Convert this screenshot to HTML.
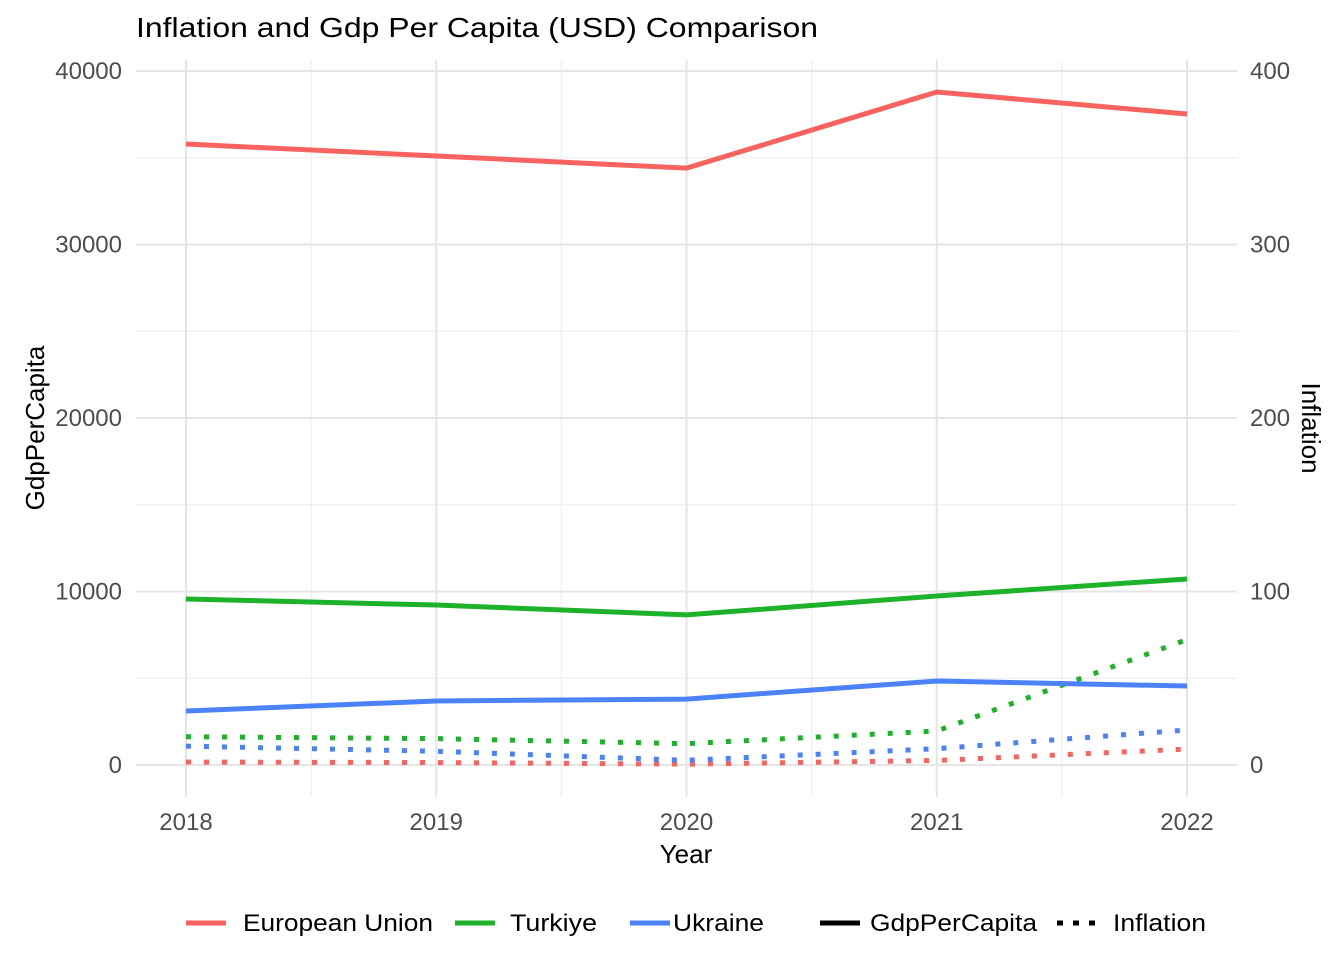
<!DOCTYPE html>
<html><head><meta charset="utf-8"><style>
body{margin:0;background:#fff;font-family:"Liberation Sans",sans-serif}
</style></head><body>
<svg id="chart" width="1344" height="960" xmlns="http://www.w3.org/2000/svg" font-family="Liberation Sans, sans-serif">
<text x="136" y="37" font-size="28" textLength="682" lengthAdjust="spacingAndGlyphs" fill="#000">Inflation and Gdp Per Capita (USD) Comparison</text>
<g id="grid"></g><g id="series"></g><g id="axes"></g>
<text x="686" y="863" font-size="26" text-anchor="middle">Year</text>
<text transform="translate(44,428) rotate(-90)" font-size="26" text-anchor="middle">GdpPerCapita</text>
<text transform="translate(1302,428) rotate(90)" font-size="26" text-anchor="middle">Inflation</text>
<g id="legend"></g>
</svg>
<script>
const years=[2018,2019,2020,2021,2022];
const countries=["European Union","Turkiye","Ukraine"];
const colors=["#F8635F","#1DB22A","#4C82F9"];
const gdpEU=[35790,35100,34400,38790,37520];
const gdpTR=[9570,9220,8650,9740,10720];
const gdpUA=[3110,3690,3800,4840,4550];
const infEU=[1.7,1.4,0.5,2.6,9.2];
const infTR=[16.3,15.2,12.3,19.6,72.3];
const infUA=[10.9,7.9,2.7,9.4,20.2];
const yTicks=[0,10000,20000,30000,40000];
const y2Ticks=[0,100,200,300,400];
const NS="http://www.w3.org/2000/svg";
const X=y=>186+(y-2018)*(1187-186)/4;
const Y=v=>765-v*(765-71)/40000;
const Y2=v=>Y(v*100);
function mk(t,a,p){const e=document.createElementNS(NS,t);for(const k in a)e.setAttribute(k,a[k]);document.getElementById(p).appendChild(e);return e;}
for(let v=5000;v<=45000;v+=10000){if(Y(v)>60){const l=mk('line',{x1:136,x2:1237,y1:Y(v),y2:Y(v),stroke:'#ebebeb','stroke-width':1},'grid');}}
for(let i=0;i<4;i++){const l=mk('line',{x1:X(years[i]+0.5),x2:X(years[i]+0.5),y1:60,y2:797,stroke:'#ebebeb','stroke-width':1},'grid');}
yTicks.forEach((v,i)=>{const l=mk('line',{x1:136,x2:1237,y1:Y(v),y2:Y(v),stroke:'#e5e5e5','stroke-width':2},'grid');
const t=mk('text',{x:122,y:Y(v)+8,'font-size':24,fill:'#4d4d4d','text-anchor':'end'},'axes');t.textContent=v;
const t2=mk('text',{x:1250,y:Y(y2Ticks[i]*100)+8,'font-size':24,fill:'#4d4d4d'},'axes');t2.textContent=y2Ticks[i];});
years.forEach(y=>{const l=mk('line',{x1:X(y),x2:X(y),y1:60,y2:797,stroke:'#e5e5e5','stroke-width':2},'grid');
const t=mk('text',{x:X(y),y:830,'font-size':24,fill:'#4d4d4d','text-anchor':'middle'},'axes');t.textContent=y;});
const gdp=[gdpEU,gdpTR,gdpUA],inf=[infEU,infTR,infUA];
[0,1,2].forEach(i=>{
const p1=mk('polyline',{points:years.map((y,j)=>X(y)+','+Y(gdp[i][j])).join(' '),fill:'none',stroke:colors[i],'stroke-width':5},'series');

const p2=mk('polyline',{points:years.map((y,j)=>X(y)+','+Y2(inf[i][j])).join(' '),fill:'none',stroke:colors[i],'stroke-width':5,'stroke-dasharray':'5 13'},'series');
});
const items=[[186,243,colors[0],null,'European Union',190],[455,510,colors[1],null,'Turkiye',87],[630,673,colors[2],null,'Ukraine',91],[820,870,'#000',null,'GdpPerCapita',167],[1057,1113,'#000','6 10','Inflation',93]];
items.forEach(it=>{const a={x1:it[0],x2:it[0]+40,y1:923,y2:923,stroke:it[2],'stroke-width':5};if(it[3])a['stroke-dasharray']=it[3];
const l=mk('line',a,'legend');
const t=mk('text',{x:it[1],y:931,'font-size':24,fill:'#000',textLength:it[5],lengthAdjust:'spacingAndGlyphs'},'legend');t.textContent=it[4];});
</script>
</body></html>
